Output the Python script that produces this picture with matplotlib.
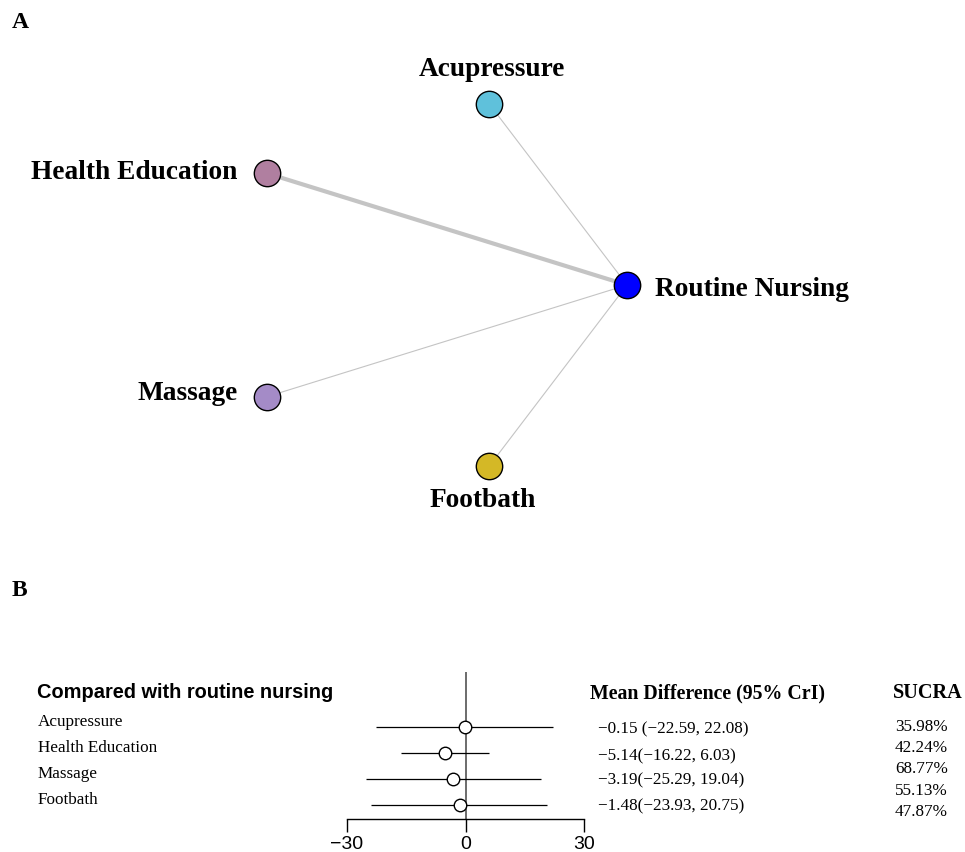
import numpy as np
import matplotlib
matplotlib.use("Agg")
import matplotlib.pyplot as plt
import matplotlib.transforms as mtransforms

# 网络图数据
nodes = ["Routine Nursing", "Acupressure", "Health Education", "Massage", "Footbath"]
node_colors = ["#0000ff", "#5fc1db", "#b07fa0", "#a48bc7", "#d4b826"]
n_studies = [1, 3, 1, 1]  # Acupressure, Health Education, Massage, Footbath vs Routine Nursing

# 森林图数据
treatments = ["Acupressure", "Health Education", "Massage", "Footbath"]
md = [-0.15, -5.14, -3.19, -1.48]
lo = [-22.59, -16.22, -25.29, -23.93]
hi = [22.08, 6.03, 19.04, 20.75]
md_labels = ["\u22120.15 (\u221222.59, 22.08)", "\u22125.14(\u221216.22, 6.03)",
             "\u22123.19(\u221225.29, 19.04)", "\u22121.48(\u221223.93, 20.75)"]
sucra = ["35.98%", "42.24%", "68.77%", "55.13%", "47.87%"]
xticks = [-30, 0, 30]

W, H = 965, 852
fig = plt.figure(figsize=(W / 100, H / 100), dpi=100)
serif = "Liberation Serif"
sans = "Liberation Sans"

# ---- A: 网络图 ----
axn = fig.add_axes([0, 0, 1, 1])
axn.set_xlim(0, W)
axn.set_ylim(H, 0)
axn.axis("off")

cx, cy, rx, ry = 428, 285, 199, 190
ang = np.deg2rad(np.arange(5) * 72)
px = cx + rx * np.cos(ang)
py = cy - ry * np.sin(ang)

for i in range(1, 5):
    axn.plot([px[0], px[i]], [py[0], py[i]], color="#c4c4c4",
             lw=1.0 * n_studies[i - 1] if n_studies[i - 1] > 1 else 0.8,
             solid_capstyle="butt", zorder=1)
for i in range(5):
    axn.plot(px[i], py[i], "o", ms=19, mfc=node_colors[i], mec="black",
             mew=1.0, zorder=3)

lab_off = [(28, 4, "left", "center"), (2, -35, "center", "center"),
           (-30, -1, "right", "center"), (-29, -3, "right", "center"),
           (-7, 35, "center", "center")]
for i in range(5):
    dx, dy, ha, va = lab_off[i]
    axn.text(px[i] + dx, py[i] + dy, nodes[i], ha=ha, va=va,
             fontsize=19.7, fontweight="bold", family=serif)

fig.text(12 / W, 1 - 22 / H, "A", fontsize=17, fontweight="bold",
         family=serif, va="center")
fig.text(12 / W, 1 - 590 / H, "B", fontsize=17, fontweight="bold",
         family=serif, va="center")

# ---- B: 森林图 ----
x0, x1 = 347, 584
ytop, ybot = 672, 819
row0, step = 727, 26.0
axf = fig.add_axes([x0 / W, 1 - ybot / H, (x1 - x0) / W, (ybot - ytop) / H])
axf.set_xlim(-30, 30)
axf.set_ylim((ybot - row0) / step, (ytop - row0) / step)
for s in ["top", "right", "left"]:
    axf.spines[s].set_visible(False)
axf.spines["bottom"].set_linewidth(1.0)
axf.set_yticks([])
axf.set_xticks(xticks)
axf.set_xticklabels(["\u221230", "0", "30"], family=sans, fontsize=14)
axf.tick_params(axis="x", direction="out", length=9.5, width=1.0, pad=3)
axf.axvline(0, color="#444444", lw=1.1, zorder=1)

rows = np.arange(len(treatments))
axf.hlines(rows, lo, hi, color="black", lw=0.9, zorder=2)
axf.plot(md, rows, "o", ms=9, mfc="white", mec="black", mew=1.0, zorder=3,
         clip_on=False)

tr = mtransforms.blended_transform_factory(fig.transFigure, axf.transData)
head_y = (693 - row0) / step
axf.text(37 / W, head_y, "Compared with routine nursing", transform=tr,
         family=sans, fontweight="bold", fontsize=14.4, va="center")
axf.text(590 / W, head_y, "Mean Difference (95% CrI)", transform=tr,
         family=serif, fontweight="bold", fontsize=14.3, va="center")
axf.text(893 / W, head_y, "SUCRA", transform=tr,
         family=serif, fontweight="bold", fontsize=14.6, va="center")
md_y = [729, 756, 780, 806]
for i, t in enumerate(treatments):
    axf.text(38 / W, (722 + 26 * i - row0) / step, t, transform=tr,
             family=serif, fontsize=12.3, va="center")
    axf.text(598 / W, (md_y[i] - row0) / step, md_labels[i], transform=tr,
             family=serif, fontsize=12.3, va="center")
for j, s in enumerate(sucra):
    axf.text(895 / W, (727 + 21.2 * j - row0) / step, s, transform=tr,
             family=serif, fontsize=12.3, va="center")

fig.savefig("out.png", dpi=100)
